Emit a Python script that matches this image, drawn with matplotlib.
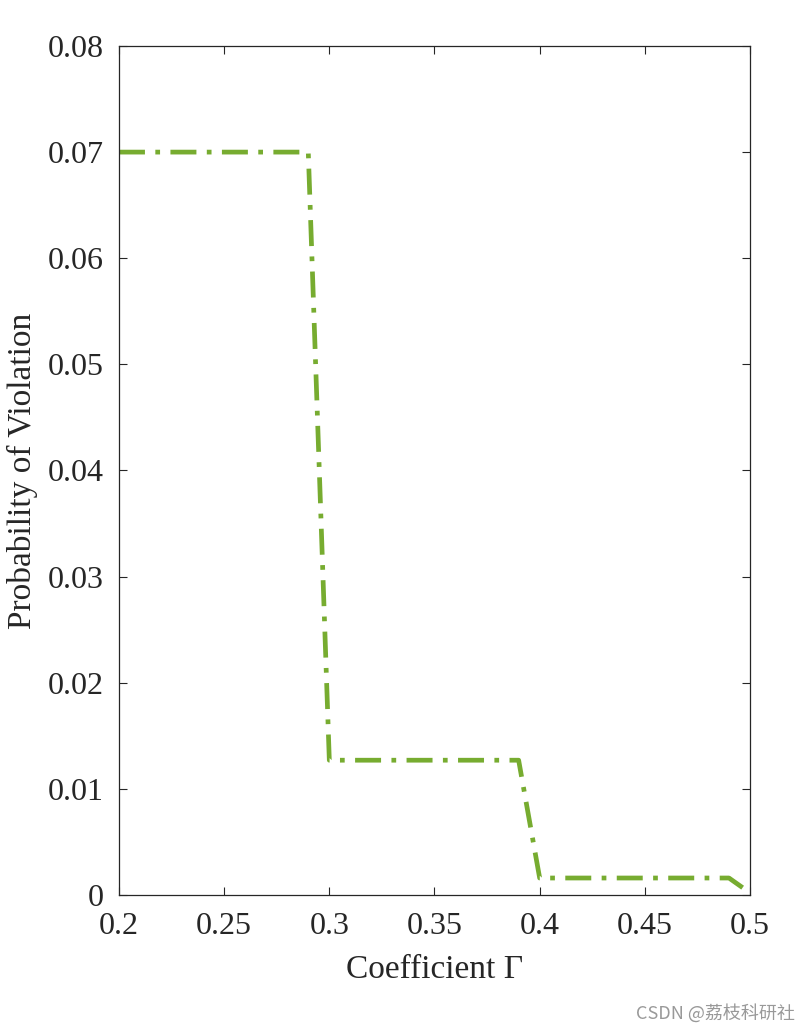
import matplotlib
matplotlib.use('Agg')
import matplotlib.pyplot as plt
import numpy as np

# coefficient vs probability of violation
gamma = [0.2, 0.29, 0.30, 0.39, 0.40, 0.49, 0.50]
prob = [0.07, 0.07, 0.0127, 0.0127, 0.0016, 0.0016, 0.0002]

xticks = [0.2, 0.25, 0.3, 0.35, 0.4, 0.45, 0.5]
xlabels = ['0.2', '0.25', '0.3', '0.35', '0.4', '0.45', '0.5']
yticks = [0, 0.01, 0.02, 0.03, 0.04, 0.05, 0.06, 0.07, 0.08]
ylabels = ['0', '0.01', '0.02', '0.03', '0.04', '0.05', '0.06', '0.07', '0.08']

plt.rcParams['font.family'] = ['Liberation Serif', 'DejaVu Serif']

fig = plt.figure(figsize=(8.11, 10.33), dpi=100)
ax = fig.add_axes([0.1467, 0.1336, 0.7781, 0.8219])

ax.plot(gamma, prob, color='#77AC30', linewidth=3.4, linestyle=(0, (5.5, 2.2, 1, 2.2)),
        solid_capstyle='butt', dash_capstyle='butt')

ax.set_xlim(0.2, 0.5)
ax.set_ylim(0, 0.08)
ax.set_xticks(xticks)
ax.set_xticklabels(xlabels)
ax.set_yticks(yticks)
ax.set_yticklabels(ylabels)
ax.tick_params(direction='in', top=True, right=True, length=6, width=0.8,
               labelsize=23, colors='#262626')
ax.tick_params(axis='y', pad=11)
ax.tick_params(axis='x', pad=12)
for s in ax.spines.values():
    s.set_color('#262626')
    s.set_linewidth(0.9)

ax.set_xlabel('Coefficient Γ', fontsize=24, color='#262626', labelpad=10)
ax.set_ylabel('Probability of Violation', fontsize=24, color='#262626', labelpad=7)

fig.text(0.98, 0.01, 'CSDN @荔枝科研社', ha='right', va='bottom', fontsize=13,
         color='#999999', family=['Noto Sans CJK SC', 'DejaVu Sans'])

fig.savefig('out.png', dpi=100)
